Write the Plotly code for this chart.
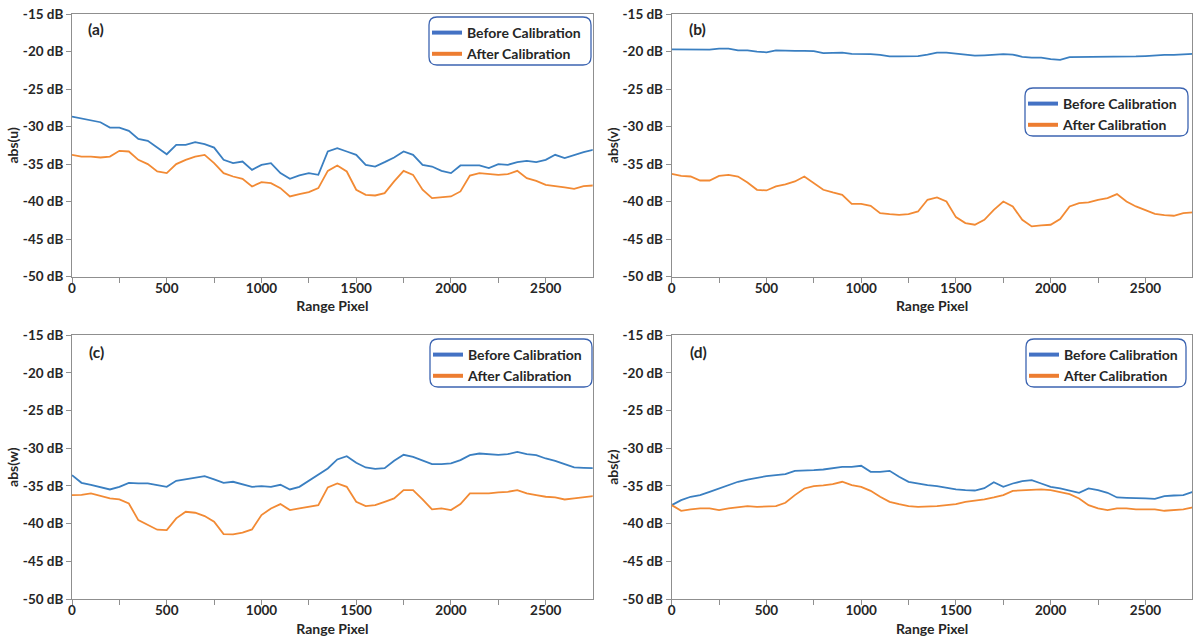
import plotly.graph_objects as go

# ---------------- data ----------------
RANGE_PIXEL = [0, 50, 100, 150, 200, 250, 300, 350, 400, 450,
               500, 550, 600, 650, 700, 750, 800, 850, 900, 950,
               1000, 1050, 1100, 1150, 1200, 1250, 1300, 1350, 1400, 1450,
               1500, 1550, 1600, 1650, 1700, 1750, 1800, 1850, 1900, 1950,
               2000, 2050, 2100, 2150, 2200, 2250, 2300, 2350, 2400, 2450,
               2500, 2550, 2600, 2650, 2700, 2750]

u_before = [-28.66, -28.88, -29.1, -29.42, -30.13, -30.13, -30.57, -31.64, -31.9, -32.8,
            -33.68, -32.43, -32.43, -32.08, -32.35, -32.8, -34.43, -34.87, -34.65, -35.76,
            -35.1, -34.87, -36.2, -36.96, -36.5, -36.2, -36.43, -33.32, -32.88, -33.32,
            -33.76, -35.1, -35.32, -34.74, -34.12, -33.32, -33.76, -35.1, -35.32, -35.9,
            -36.2, -35.18, -35.18, -35.18, -35.54, -35.0, -35.1, -34.74, -34.56, -34.74,
            -34.43, -33.76, -34.2, -33.76, -33.41, -33.1]
u_after = [-33.77, -33.99, -33.99, -34.12, -33.99, -33.23, -33.32, -34.43, -35.0, -35.98,
           -36.2, -35.0, -34.43, -33.99, -33.77, -34.87, -36.2, -36.65, -36.96, -37.98,
           -37.4, -37.54, -38.2, -39.31, -39.0, -38.73, -38.2, -35.9, -35.18, -35.98,
           -38.42, -39.09, -39.18, -38.87, -37.31, -35.9, -36.43, -38.42, -39.53, -39.44,
           -39.31, -38.64, -36.52, -36.2, -36.29, -36.43, -36.34, -35.9, -36.87, -37.23,
           -37.76, -37.89, -38.11, -38.29, -37.94, -37.85]

v_before = [-19.7, -19.7, -19.65, -19.7, -19.75, -19.6, -19.6, -19.85, -19.85, -20.0,
            -20.1, -19.85, -19.9, -19.9, -19.9, -19.95, -20.2, -20.2, -20.15, -20.3,
            -20.3, -20.35, -20.45, -20.65, -20.65, -20.65, -20.6, -20.4, -20.15, -20.15,
            -20.3, -20.5, -20.55, -20.5, -20.4, -20.35, -20.4, -20.7, -20.8, -20.8,
            -21.0, -21.1, -20.75, -20.75, -20.75, -20.7, -20.65, -20.7, -20.7, -20.65,
            -20.6, -20.5, -20.45, -20.45, -20.35, -20.3]
v_after = [-36.29, -36.56, -36.65, -37.18, -37.18, -36.56, -36.43, -36.65, -37.45, -38.42,
           -38.51, -37.98, -37.71, -37.31, -36.65, -37.54, -38.42, -38.78, -39.09, -40.29,
           -40.29, -40.55, -41.53, -41.66, -41.75, -41.66, -41.31, -39.75, -39.44, -39.98,
           -42.06, -42.86, -43.08, -42.42, -41.09, -39.98, -40.64, -42.42, -43.3, -43.17,
           -43.08, -42.33, -40.64, -40.2, -40.11, -39.75, -39.53, -39.0, -39.98, -40.64,
           -41.18, -41.62, -41.8, -41.88, -41.53, -41.44]

w_before = [-33.56, -34.58, -34.84, -35.11, -35.46, -35.11, -34.58, -34.66, -34.66, -34.89,
            -35.11, -34.31, -34.13, -33.87, -33.69, -34.13, -34.58, -34.44, -34.75, -35.11,
            -35.02, -35.11, -34.84, -35.46, -35.11, -34.31, -33.56, -32.68, -31.48, -31.04,
            -31.92, -32.54, -32.72, -32.63, -31.66, -30.86, -31.13, -31.66, -32.1, -32.1,
            -32.01, -31.57, -30.91, -30.69, -30.78, -30.86, -30.78, -30.47, -30.78, -30.91,
            -31.35, -31.66, -32.1, -32.54, -32.59, -32.63]
w_after = [-36.21, -36.17, -35.99, -36.34, -36.65, -36.79, -37.32, -39.53, -40.19, -40.8,
           -40.85, -39.3, -38.42, -38.55, -38.99, -39.75, -41.38, -41.43, -41.2, -40.76,
           -38.86, -37.98, -37.4, -38.2, -37.98, -37.76, -37.54, -35.19, -34.66, -35.11,
           -37.1, -37.67, -37.54, -37.1, -36.65, -35.55, -35.55, -36.79, -38.11, -37.98,
           -38.2, -37.4, -35.99, -35.99, -35.99, -35.86, -35.77, -35.55, -35.99, -36.21,
           -36.43, -36.52, -36.79, -36.65, -36.52, -36.34]

z_before = [-37.54, -36.88, -36.43, -36.21, -35.77, -35.33, -34.89, -34.44, -34.14, -33.87,
            -33.69, -33.56, -33.43, -32.99, -32.99, -32.9, -32.81, -32.68, -32.46, -32.46,
            -32.32, -33.12, -33.12, -32.99, -33.78, -34.44, -34.67, -34.89, -35.02, -35.24,
            -35.46, -35.55, -35.6, -35.3, -34.5, -35.11, -34.67, -34.36, -34.22, -34.67,
            -35.11, -35.33, -35.64, -35.9, -35.33, -35.55, -35.9, -36.52, -36.57, -36.57,
            -36.65, -36.7, -36.35, -36.26, -36.21, -35.77]
z_after = [-37.54, -38.29, -38.11, -37.98, -37.98, -38.2, -37.98, -37.85, -37.67, -37.76,
           -37.76, -37.67, -37.23, -36.21, -35.33, -35.02, -34.93, -34.75, -34.44, -34.89,
           -35.11, -35.64, -36.43, -37.1, -37.41, -37.67, -37.76, -37.76, -37.67, -37.54,
           -37.41, -37.1, -36.96, -36.79, -36.52, -36.21, -35.64, -35.55, -35.46, -35.46,
           -35.55, -35.77, -36.08, -36.65, -37.54, -37.98, -38.2, -37.98, -37.98, -38.11,
           -38.07, -38.11, -38.29, -38.2, -38.11, -37.85]

Y_TICKS = [-50, -45, -40, -35, -30, -25, -20, -15]
Y_TICK_LABELS = ["-50 dB", "-45 dB", "-40 dB", "-35 dB", "-30 dB", "-25 dB", "-20 dB", "-15 dB"]
X_TICKS = [0, 500, 1000, 1500, 2000, 2500]
X_TICK_LABELS = ["0", "500", "1000", "1500", "2000", "2500"]

PANELS = [
    ("(a)", "abs(u)", u_before, u_after),
    ("(b)", "abs(v)", v_before, v_after),
    ("(c)", "abs(w)", w_before, w_after),
    ("(d)", "abs(z)", z_before, z_after),
]
SERIES_NAMES = ["Before Calibration", "After Calibration"]

# ---------------- styling / layout ----------------
W, H = 1194, 643
FONT = "Lato"
TXT = "#262626"
AXIS = "#8f8f8f"
LINE_BLUE = "#3a7fc1"
LINE_ORANGE = "#f28a34"
LEG_BLUE = "#4472c4"
LEG_ORANGE = "#ed7d31"
BOX = "#3c64b1"

def px_x(p):
    return p / W

def px_y(p):
    return 1 - p / H

# panel geometry in pixels: (left, right, top, bottom)
GEOM = [(72, 592.7, 14, 276.7), (671.7, 1192.4, 14, 276.7),
        (72, 592.7, 335.3, 599), (671.7, 1192.4, 335.3, 599)]
# legend boxes in pixels: (left, right, top, bottom)
LEG_BOX = [(429, 591, 17, 65), (1025, 1188, 88, 136),
           (430, 592, 339, 387), (1026, 1186, 339, 387)]
LABEL_POS = [(96, 29), (697, 29), (96, 351.5), (698, 351.5)]

fig = go.Figure()
layout = dict(width=W, height=H, margin=dict(l=0, r=0, t=0, b=0),
              paper_bgcolor="white", plot_bgcolor="white",
              template="none", showlegend=True,
              font=dict(family=FONT, color=TXT))
shapes = []
annotations = []

for i, (lab, ytitle, before, after) in enumerate(PANELS):
    n = "" if i == 0 else str(i + 1)
    xa, ya = "x" + n, "y" + n
    leg = "legend" + n
    l, r, t, b = GEOM[i]
    fig.add_trace(go.Scatter(x=RANGE_PIXEL, y=before, mode="lines", xaxis=xa, yaxis=ya,
                             line=dict(color=LINE_BLUE, width=1.8), showlegend=False,
                             name=SERIES_NAMES[0]))
    fig.add_trace(go.Scatter(x=RANGE_PIXEL, y=after, mode="lines", xaxis=xa, yaxis=ya,
                             line=dict(color=LINE_ORANGE, width=1.8), showlegend=False,
                             name=SERIES_NAMES[1]))
    # legend proxies (thick symbols)
    fig.add_trace(go.Scatter(x=[None], y=[None], mode="lines", xaxis=xa, yaxis=ya,
                             line=dict(color=LEG_BLUE, width=4), name=SERIES_NAMES[0],
                             legend=leg, showlegend=True))
    fig.add_trace(go.Scatter(x=[None], y=[None], mode="lines", xaxis=xa, yaxis=ya,
                             line=dict(color=LEG_ORANGE, width=4), name=SERIES_NAMES[1],
                             legend=leg, showlegend=True))

    layout["xaxis" + n] = dict(
        domain=[px_x(l), px_x(r)], anchor=ya, range=[0, 2748],
        tickmode="array", tickvals=X_TICKS, ticktext=X_TICK_LABELS,
        ticks="outside", ticklen=5, tickwidth=1, tickcolor=AXIS,
        minor=dict(tickmode="linear", tick0=0, dtick=250, ticks="outside", ticklen=5,
                   tickwidth=1, tickcolor=AXIS, showgrid=False),
        showline=True, linecolor=AXIS, linewidth=1, mirror=True,
        showgrid=False, zeroline=False, automargin=False,
        ticklabelstandoff=-6,
        tickfont=dict(family=FONT, size=13.5, color=TXT, weight="bold"),
        title=dict(text="Range Pixel", standoff=6,
                   font=dict(family=FONT, size=14, color=TXT, weight="bold")),
    )
    layout["yaxis" + n] = dict(
        domain=[px_y(b), px_y(t)], anchor=xa, range=[-50, -15],
        tickmode="array", tickvals=Y_TICKS, ticktext=Y_TICK_LABELS,
        ticks="outside", ticklen=5, tickwidth=1, tickcolor=AXIS,
        showline=True, linecolor=AXIS, linewidth=1, mirror=True,
        showgrid=False, zeroline=False, automargin=False,
        tickfont=dict(family=FONT, size=13.5, color=TXT, weight="bold"),
        title=dict(text=ytitle, standoff=0,
                   font=dict(family=FONT, size=14, color=TXT, weight="bold")),
    )
    bl, br, bt, bb = LEG_BOX[i]
    layout[leg] = dict(x=px_x(bl - 2), y=px_y(bt), xanchor="left", yanchor="top",
                       xref="paper", yref="paper", bgcolor="rgba(0,0,0,0)",
                       borderwidth=0, itemwidth=30, tracegroupgap=0,
                       font=dict(family=FONT, size=14, color=TXT, weight="bold"))
    # rounded legend frame
    rx, ry = 8 / W, 8 / H
    x0, x1 = px_x(bl), px_x(br)
    y0, y1 = px_y(bb), px_y(bt)
    path = (f"M {x0+rx},{y1} L {x1-rx},{y1} Q {x1},{y1} {x1},{y1-ry} "
            f"L {x1},{y0+ry} Q {x1},{y0} {x1-rx},{y0} L {x0+rx},{y0} "
            f"Q {x0},{y0} {x0},{y0+ry} L {x0},{y1-ry} Q {x0},{y1} {x0+rx},{y1} Z")
    shapes.append(dict(type="path", path=path, xref="paper", yref="paper",
                       line=dict(color=BOX, width=1.3), fillcolor="rgba(0,0,0,0)"))
    lx, ly = LABEL_POS[i]
    annotations.append(dict(text=lab, x=px_x(lx), y=px_y(ly), xref="paper", yref="paper",
                            xanchor="center", yanchor="middle", showarrow=False,
                            font=dict(family=FONT, size=15.5, color=TXT, weight="bold")))

layout["shapes"] = shapes
layout["annotations"] = annotations
fig.update_layout(**layout)
fig.write_html("out.html")
